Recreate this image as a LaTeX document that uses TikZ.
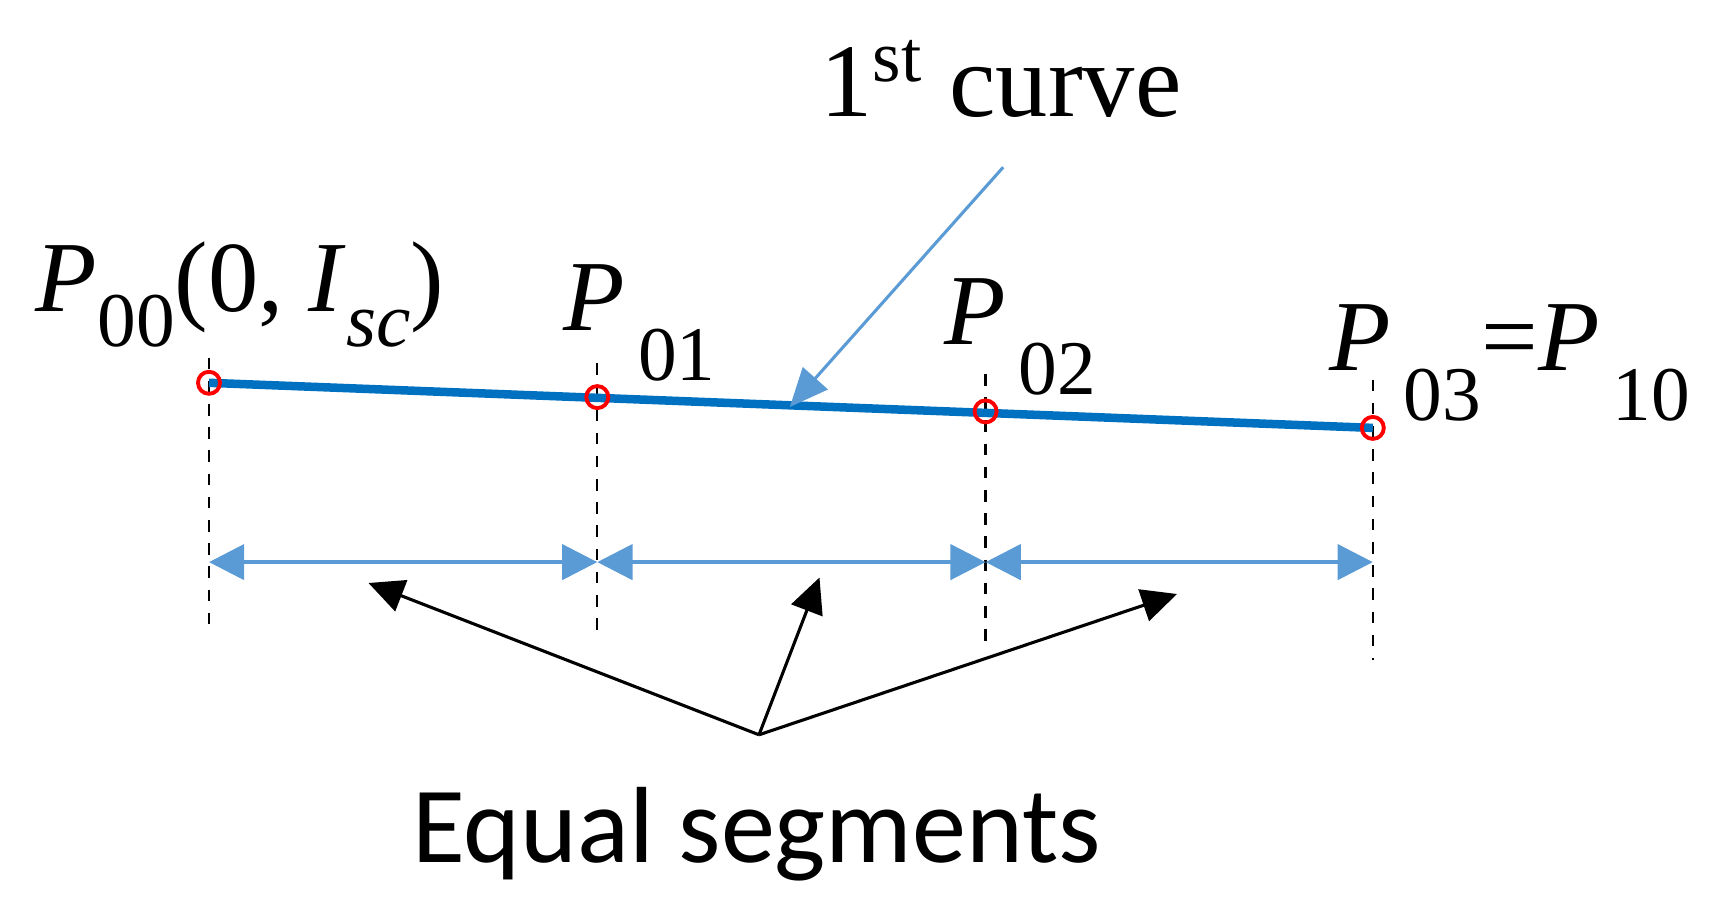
\documentclass[tikz,border=0pt]{standalone}
\usepackage{fontspec}
\setmainfont{Liberation Serif}
\newfontfamily\carl{Carlito}
\usetikzlibrary{arrows.meta}
\definecolor{lblue}{RGB}{91,155,213}
\definecolor{dblue}{RGB}{0,112,192}
\begin{document}
\begin{tikzpicture}[x=0.01cm,y=-0.01cm,
  pt/.style={circle,draw=red,line width=1pt,minimum size=0.2cm,inner sep=0pt},
  vl/.style={dashed,line width=0.6pt},
  dim/.style={lblue,line width=1pt,{Triangle[width=0.32cm,length=0.32cm]}-{Triangle[width=0.32cm,length=0.32cm]}},
  blk/.style={line width=0.8pt,-{Triangle[width=0.3cm,length=0.32cm]}},
  lab/.style={font=\fontsize{26}{30}\selectfont,inner sep=0pt,anchor=base west}]
\useasboundingbox (0,0) rectangle (1560,821);
\coordinate (a0) at (190,348); \coordinate (a1) at (543,361);
\coordinate (a2) at (896,374); \coordinate (a3) at (1248,389);
\draw[vl] (190,325) -- (190,572);
\draw[vl] (543,330) -- (543,582);
\draw[vl] (896,340) -- (896,592);
\draw[vl] (1248,345) -- (1248,600);
\draw[dblue,line width=2.2pt] (a0) -- (a3);
\foreach \i in {0,1,2,3} \node[pt] (p\i) at (a\i) {};
\coordinate (d0) at (190,511); \coordinate (d1) at (543,511);
\coordinate (d2) at (896,511); \coordinate (d3) at (1248,511);
\draw[dim] (d0) -- (d1);
\draw[dim] (d1) -- (d2);
\draw[dim] (d2) -- (d3);
\node[font=\fontsize{27}{32}\selectfont] (c) at (910,72) {1\textsuperscript{st} curve};
\coordinate (cs) at (912,152);
\draw[lblue,line width=0.8pt,-{Triangle[width=0.3cm,length=0.35cm]}] (cs) -- (718,370);
\node[lab] (l0) at (32,283) {\textit{P}\raisebox{-0.35em}{\fontsize{20}{20}\selectfont 00}(0, \textit{I}\raisebox{-0.35em}{\fontsize{20}{20}\selectfont\textit{sc}})};
\node[lab] (l1) at (512,300) {\textit{P}\raisebox{-0.5em}{\fontsize{20}{20}\selectfont\,01}};
\node[lab] (l2) at (858,313) {\textit{P}\raisebox{-0.5em}{\fontsize{20}{20}\selectfont\,02}};
\node[lab] (l3) at (1208,337) {\textit{P}\raisebox{-0.5em}{\fontsize{20}{20}\selectfont\,03}=\textit{P}\raisebox{-0.5em}{\fontsize{20}{20}\selectfont\,10}};
\node[font=\carl\fontsize{28}{32}\selectfont] (eq) at (688,758) {Equal segments};
\coordinate (o) at (690,668);
\draw[blk] (o) -- (335,530);
\draw[blk] (o) -- (745,525);
\draw[blk] (o) -- (1070,540);
\end{tikzpicture}
\end{document}
